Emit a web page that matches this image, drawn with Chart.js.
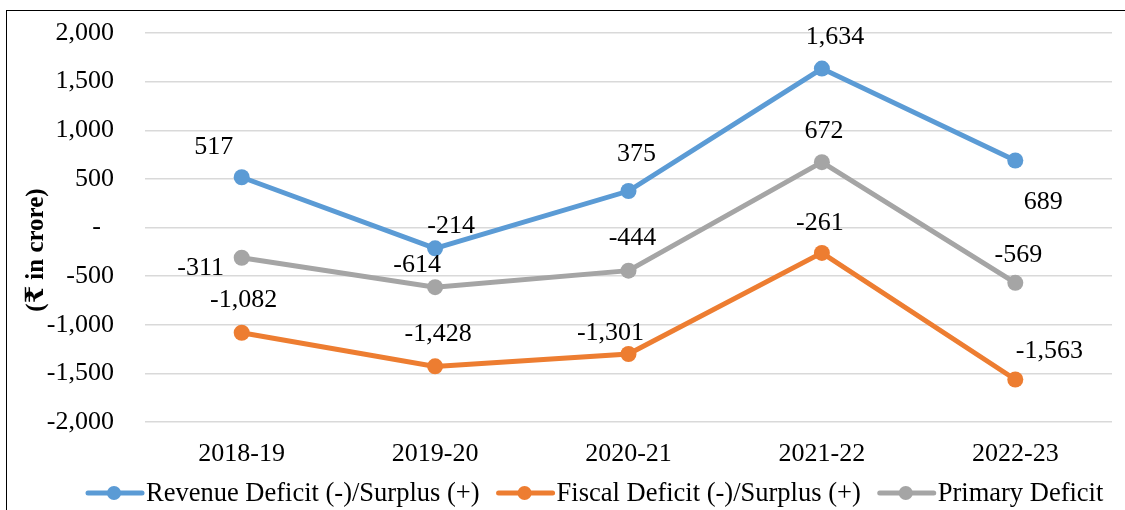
<!DOCTYPE html>
<html>
<head>
<meta charset="utf-8">
<script src="https://cdn.jsdelivr.net/npm/chart.js@4.4.1/dist/chart.umd.min.js"></script>
<style>
  html, body { margin: 0; padding: 0; background: #fff; overflow: hidden; }
  #wrap { position: relative; width: 1125px; height: 510px; }
  #frame { position: absolute; left: 6px; top: 10px; width: 1140px; height: 520px;
           border-left: 1.5px solid #000; border-top: 1.5px solid #000; pointer-events: none; }
  canvas { position: absolute; left: 0; top: 0; }
</style>
</head>
<body>
<div id="wrap">
  <canvas id="c" width="1125" height="510"></canvas>
  <div id="frame"></div>
</div>
<script>
  // ---------- Data ----------
  const years = ["2018-19", "2019-20", "2020-21", "2021-22", "2022-23"];
  const revenue = [517, -214, 375, 1634, 689];
  const fiscal = [-1082, -1428, -1301, -261, -1563];
  const primary = [-311, -614, -444, 672, -569];
  const yTicks = [-2000, -1500, -1000, -500, 0, 500, 1000, 1500, 2000];

  const seriesNames = ["Revenue Deficit (-)/Surplus (+)", "Fiscal Deficit (-)/Surplus (+)", "Primary Deficit"];
  const seriesColors = ["#5B9BD5", "#ED7D31", "#A5A5A5"];

  // label nudges (px) relative to each point, per series
  const labelNudge = [
    [[-28, -30], [16, -22], [8, -37], [13, -31], [28, 42]],
    [[2, -33], [3, -32], [-18, -21], [-2, -30], [34, -28]],
    [[-41, 10], [-18, -22], [4, -33], [2, -31], [3, -28]],
  ];

  const FONT = "'Liberation Serif', 'Times New Roman', 'DejaVu Serif', serif";
  const fmt = (v) => v === 0 ? "-  " : v.toLocaleString("en-US");

  // ---------- Plugins ----------
  const valueLabels = {
    id: "valueLabels",
    afterDatasetsDraw(chart) {
      const ctx = chart.ctx;
      ctx.save();
      ctx.font = "26px " + FONT;
      ctx.fillStyle = "#000";
      ctx.textAlign = "center";
      ctx.textBaseline = "middle";
      chart.data.datasets.forEach((ds, i) => {
        chart.getDatasetMeta(i).data.forEach((pt, j) => {
          const [dx, dy] = labelNudge[i][j];
          ctx.fillText(ds.data[j].toLocaleString("en-US"), pt.x + dx, pt.y + dy);
        });
      });
      ctx.restore();
    }
  };

  const extras = {
    id: "extras",
    afterDraw(chart) {
      const ctx = chart.ctx;
      ctx.save();
      // y axis title
      ctx.translate(37, 250);
      ctx.rotate(-Math.PI / 2);
      ctx.font = "bold 25px " + FONT;
      ctx.fillStyle = "#000";
      ctx.textAlign = "center";
      ctx.textBaseline = "middle";
      ctx.fillText("(₹ in crore)", 0, 0);
      ctx.restore();

      // legend: line + marker, then text
      ctx.save();
      ctx.font = "26.5px " + FONT;
      ctx.textBaseline = "middle";
      ctx.textAlign = "left";
      let x = 86;
      const y = 493;
      chart.data.datasets.forEach((ds) => {
        ctx.strokeStyle = ds.borderColor;
        ctx.lineWidth = 5;
        ctx.lineCap = "round";
        ctx.beginPath(); ctx.moveTo(x + 2, y); ctx.lineTo(x + 56, y); ctx.stroke();
        ctx.fillStyle = ds.borderColor;
        ctx.beginPath(); ctx.arc(x + 28, y, 7, 0, Math.PI * 2); ctx.fill();
        ctx.fillStyle = "#000";
        ctx.fillText(ds.label, x + 60, y + 1);
        x += 60 + ctx.measureText(ds.label).width + 17;
      });
      ctx.restore();
    }
  };

  // ---------- Chart ----------
  const mk = (i, data) => ({
    label: seriesNames[i], data,
    borderColor: seriesColors[i], backgroundColor: seriesColors[i],
    borderWidth: 5, pointRadius: 8, pointHoverRadius: 8, pointBorderWidth: 0,
    tension: 0,
  });

  new Chart(document.getElementById("c"), {
    type: "line",
    data: { labels: years, datasets: [mk(0, revenue), mk(1, fiscal), mk(2, primary)] },
    options: {
      responsive: false,
      animation: false,
      events: [],
      layout: { padding: { left: 0, right: 13, top: 33, bottom: 28 } },
      plugins: { legend: { display: false }, tooltip: { enabled: false } },
      scales: {
        x: {
          offset: true,
          grid: { display: false },
          border: { display: false },
          ticks: { color: "#000", font: { family: FONT, size: 26 }, padding: 9, maxRotation: 0 },
          afterFit: (s) => { s.height = 60; s.paddingLeft = 0; s.paddingRight = 0; },
        },
        y: {
          min: yTicks[0], max: yTicks[yTicks.length - 1],
          afterBuildTicks: (s) => { s.ticks = yTicks.map(v => ({ value: v })); },
          grid: { color: "#D9D9D9", lineWidth: 1.5, drawTicks: false },
          border: { display: false },
          ticks: { color: "#000", font: { family: FONT, size: 26 }, padding: 31, callback: (v) => fmt(v) },
          afterFit: (s) => { s.width = 145; s.paddingTop = 0; s.paddingBottom = 0; },
        },
      },
    },
    plugins: [valueLabels, extras],
  });
</script>
</body>
</html>
